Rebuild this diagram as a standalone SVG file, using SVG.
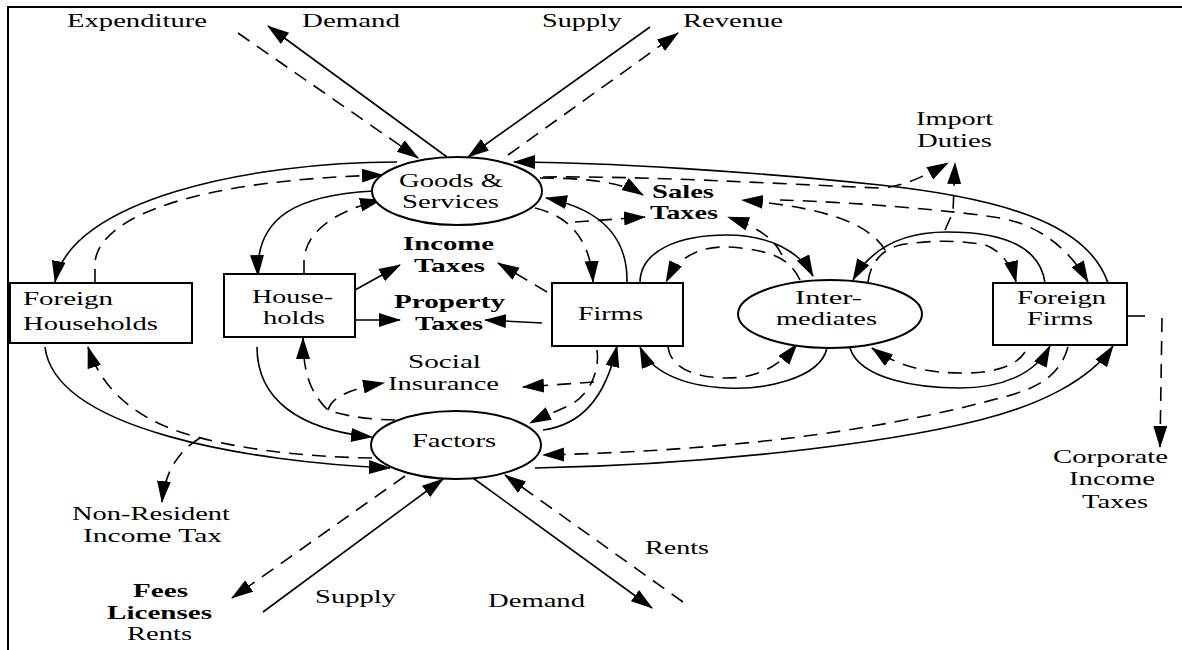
<svg xmlns="http://www.w3.org/2000/svg" width="1182" height="650" viewBox="0 0 1182 650">
<defs>
<marker id="ah" markerUnits="userSpaceOnUse" markerWidth="24" markerHeight="16" refX="21" refY="7" orient="auto">
<path d="M0,0 L22,7 L0,14 z" fill="#000"/>
</marker>
<style>
.t{font-family:"Liberation Serif","Times New Roman",serif;font-size:19px;fill:#000}
.b{font-weight:bold}
.n{fill:#fff;stroke:#000;stroke-width:2}
.s{fill:none;stroke:#000;stroke-width:1.6}
.d{fill:none;stroke:#000;stroke-width:1.6;stroke-dasharray:14 9}
.a{marker-end:url(#ah)}
</style>
</defs>
<rect x="0" y="0" width="1182" height="650" fill="#fff"/>
<path d="M8,650 L8,7 L1182,7" fill="none" stroke="#000" stroke-width="2"/>

<g id="connectors">
<path class="s a" d="M447,157 L268,26"/>
<path class="d a" d="M238,33 L418,158"/>
<path class="s a" d="M650,27 L468,157"/>
<path class="d a" d="M508,155 L678,33"/>
<path class="s a" d="M1108,283 C1090,230 1020,200 880,185 C760,172 600,162 514,162"/>
<path class="s a" d="M397,162 C250,162 70,200 55,282"/>
<path class="d a" d="M95,283 L95,262 C100,215 200,180 383,175"/>
<path class="s a" d="M373,191 C300,195 255,215 258,276"/>
<path class="d a" d="M304,274 L304,262 C304,235 330,212 381,200"/>
<path class="s a" d="M627,283 C628,240 605,210 546,198"/>
<path class="d a" d="M535,208 C565,215 590,235 593,282"/>
<path class="d a" d="M540,178 C580,178 620,181 643,195"/>
<path class="d a" d="M575,222 L645,217"/>
<path class="d a" d="M543,177 C650,176 760,183 880,188 C905,186 925,176 948,163"/>
<path class="d a" d="M885,250 C870,225 830,208 742,200"/>
<path class="d a" d="M780,200 C850,202 950,210 1000,218 C1040,225 1070,250 1088,282"/>
<path class="d a" d="M945,230 L953,212 L955,163"/>
<path class="s a" d="M640,283 C640,250 680,235 727,235 C770,235 800,252 813,276"/>
<path class="d a" d="M800,280 C790,258 770,250 730,247 C700,246 680,255 666,282"/>
<path class="d a" d="M782,255 C775,240 760,228 728,217"/>
<path class="s a" d="M1045,283 C1040,245 1000,232 947,232 C900,232 870,250 853,280"/>
<path class="d a" d="M868,282 C870,265 880,250 900,245 C930,240 960,240 985,245 C1000,250 1012,265 1016,282"/>
<path class="s a" d="M827,348 C820,380 760,390 727,388 C680,386 650,370 640,347"/>
<path class="d a" d="M668,346 C670,370 700,378 727,378 C760,378 780,365 797,344"/>
<path class="s a" d="M850,348 C860,380 920,388 960,388 C1000,388 1035,375 1050,346"/>
<path class="d a" d="M1025,352 C1015,368 990,373 963,373 C930,373 900,368 872,348"/>
<path class="s a" d="M543,430 C580,425 605,400 617,346"/>
<path class="d a" d="M597,350 C600,370 590,395 570,405 C555,412 540,418 530,423"/>
<path class="d a" d="M594,382 L523,387"/>
<path class="s a" d="M257,347 C257,400 300,430 372,437"/>
<path class="d a" d="M395,420 C370,420 340,415 328,410 C312,395 303,375 303,338"/>
<path class="d a" d="M328,410 C332,398 345,390 384,383"/>
<path class="s a" d="M45,347 C55,430 250,462 390,468"/>
<path class="d a" d="M372,458 C300,457 230,448 180,432 C130,415 100,385 88,347"/>
<path class="d a" d="M200,438 C180,450 165,470 162,502"/>
<path class="s a" d="M535,468 C700,465 880,445 980,420 C1040,405 1090,380 1113,346"/>
<path class="d a" d="M1068,347 C1060,375 1040,388 1000,398 C900,425 760,450 543,455"/>
<path class="d a" d="M405,476 L232,598"/>
<path class="s a" d="M263,612 L443,479"/>
<path class="s a" d="M473,478 L652,608"/>
<path class="d a" d="M683,602 L505,475"/>
<path class="s a" d="M355,290 L400,265"/>
<path class="s a" d="M355,320 L400,320"/>
<path class="d a" d="M547,292 L498,263"/>
<path class="s a" d="M542,323 L485,320"/>
<path class="s" d="M1127,316 L1145,316"/>
<path class="d a" d="M1162,318 L1160,447"/>
</g>

<g id="goods-services">
<ellipse class="n" cx="457" cy="191" rx="85" ry="34"/>
<text class="t" x="399" y="187" textLength="104" lengthAdjust="spacingAndGlyphs">Goods &amp;</text>
<text class="t" x="402" y="208" textLength="97" lengthAdjust="spacingAndGlyphs">Services</text>
</g>
<g id="foreign-households">
<rect class="n" x="10" y="283" width="182" height="60"/>
<text class="t" x="23" y="305" textLength="90" lengthAdjust="spacingAndGlyphs">Foreign</text>
<text class="t" x="23" y="330" textLength="135" lengthAdjust="spacingAndGlyphs">Households</text>
</g>
<g id="households">
<rect class="n" x="224" y="274" width="131" height="63"/>
<text class="t" x="252" y="303" textLength="81" lengthAdjust="spacingAndGlyphs">House-</text>
<text class="t" x="263" y="324" textLength="62" lengthAdjust="spacingAndGlyphs">holds</text>
</g>
<g id="firms">
<rect class="n" x="552" y="283" width="131" height="63"/>
<text class="t" x="578" y="320" textLength="65" lengthAdjust="spacingAndGlyphs">Firms</text>
</g>
<g id="intermediates">
<ellipse class="n" cx="830" cy="314" rx="92" ry="34"/>
<text class="t" x="795" y="304" textLength="67" lengthAdjust="spacingAndGlyphs">Inter-</text>
<text class="t" x="776" y="325" textLength="101" lengthAdjust="spacingAndGlyphs">mediates</text>
</g>
<g id="foreign-firms">
<rect class="n" x="993" y="283" width="134" height="62"/>
<text class="t" x="1017" y="304" textLength="89" lengthAdjust="spacingAndGlyphs">Foreign</text>
<text class="t" x="1027" y="325" textLength="66" lengthAdjust="spacingAndGlyphs">Firms</text>
</g>
<g id="factors">
<ellipse class="n" cx="456" cy="445" rx="85" ry="34"/>
<text class="t" x="412" y="447" textLength="84" lengthAdjust="spacingAndGlyphs">Factors</text>
</g>

<g id="labels">
<text class="t" x="67" y="27" textLength="140" lengthAdjust="spacingAndGlyphs">Expenditure</text>
<text class="t" x="302" y="27" textLength="98" lengthAdjust="spacingAndGlyphs">Demand</text>
<text class="t" x="542" y="27" textLength="80" lengthAdjust="spacingAndGlyphs">Supply</text>
<text class="t" x="683" y="27" textLength="100" lengthAdjust="spacingAndGlyphs">Revenue</text>
<text class="t" x="916" y="125" textLength="77" lengthAdjust="spacingAndGlyphs">Import</text>
<text class="t" x="917" y="147" textLength="75" lengthAdjust="spacingAndGlyphs">Duties</text>
<text class="t b" x="652" y="198" textLength="62" lengthAdjust="spacingAndGlyphs">Sales</text>
<text class="t b" x="650" y="219" textLength="68" lengthAdjust="spacingAndGlyphs">Taxes</text>
<text class="t b" x="403" y="250" textLength="91" lengthAdjust="spacingAndGlyphs">Income</text>
<text class="t b" x="414" y="272" textLength="71" lengthAdjust="spacingAndGlyphs">Taxes</text>
<text class="t b" x="394" y="308" textLength="111" lengthAdjust="spacingAndGlyphs">Property</text>
<text class="t b" x="415" y="330" textLength="68" lengthAdjust="spacingAndGlyphs">Taxes</text>
<text class="t" x="408" y="368" textLength="73" lengthAdjust="spacingAndGlyphs">Social</text>
<text class="t" x="388" y="390" textLength="111" lengthAdjust="spacingAndGlyphs">Insurance</text>
<text class="t" x="72" y="520" textLength="158" lengthAdjust="spacingAndGlyphs">Non-Resident</text>
<text class="t" x="83" y="542" textLength="139" lengthAdjust="spacingAndGlyphs">Income Tax</text>
<text class="t b" x="133" y="597" textLength="55" lengthAdjust="spacingAndGlyphs">Fees</text>
<text class="t b" x="107" y="619" textLength="105" lengthAdjust="spacingAndGlyphs">Licenses</text>
<text class="t" x="127" y="640" textLength="65" lengthAdjust="spacingAndGlyphs">Rents</text>
<text class="t" x="315" y="603" textLength="81" lengthAdjust="spacingAndGlyphs">Supply</text>
<text class="t" x="488" y="607" textLength="97" lengthAdjust="spacingAndGlyphs">Demand</text>
<text class="t" x="645" y="554" textLength="64" lengthAdjust="spacingAndGlyphs">Rents</text>
<text class="t" x="1053" y="463" textLength="115" lengthAdjust="spacingAndGlyphs">Corporate</text>
<text class="t" x="1069" y="485" textLength="86" lengthAdjust="spacingAndGlyphs">Income</text>
<text class="t" x="1082" y="508" textLength="66" lengthAdjust="spacingAndGlyphs">Taxes</text>
</g>
</svg>
